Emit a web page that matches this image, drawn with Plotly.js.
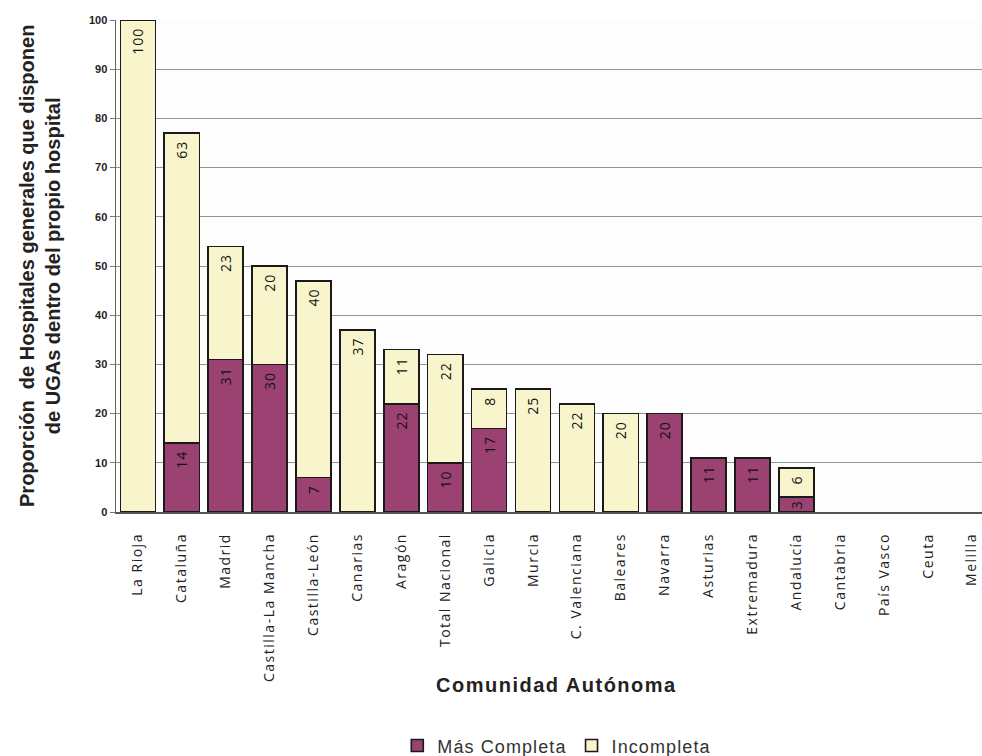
<!DOCTYPE html>
<html>
<head>
<meta charset="utf-8">
<script src="https://cdn.plot.ly/plotly-3.0.1.min.js"></script>
<style>
  html, body { margin: 0; padding: 0; background: #ffffff; }
  #chart { width: 982px; height: 756px; }
  /* spaced-out lettering for category names, bar values and legend */
  .xtick text { letter-spacing: 1.5px; }
  text.bartext { letter-spacing: 1px; }
  text.legendtext { letter-spacing: 1.1px; }
</style>
</head>
<body>
<div id="chart"></div>
<script>
// Comunidades autónomas, en el orden de la gráfica
const comunidades = [
  'La Rioja', 'Cataluña', 'Madrid', 'Castilla-La Mancha', 'Castilla-León',
  'Canarias', 'Aragón', 'Total Nacional', 'Galicia', 'Murcia',
  'C. Valenciana', 'Baleares', 'Navarra', 'Asturias', 'Extremadura',
  'Andalucía', 'Cantabria', 'País Vasco', 'Ceuta', 'Melilla'
];

// Porcentaje de hospitales con UGA "más completa"
const masCompleta = [0, 14, 31, 30, 7, 0, 22, 10, 17, 0, 0, 0, 20, 11, 11, 3, 0, 0, 0, 0];

// Porcentaje de hospitales con UGA "incompleta"
const incompleta = [100, 63, 23, 20, 40, 37, 11, 22, 8, 25, 22, 20, 0, 0, 0, 6, 0, 0, 0, 0];

const yTicks = [0, 10, 20, 30, 40, 50, 60, 70, 80, 90, 100];

// value label; segments tall enough get a little gap below their top edge
const etiqueta = v => (v <= 0 ? '' : (v >= 5 ? String(v) + '\u00a0' : String(v)));
const valor = v => (v > 0 ? v : null);

const barText = {
  textposition: 'inside',
  insidetextanchor: 'end',
  textangle: -90,
  constraintext: 'none',
  textfont: { family: 'Open Sans, sans-serif', size: 14, color: '#111111' },
  hoverinfo: 'skip'
};

const traces = [
  Object.assign({
    type: 'bar',
    name: 'Más Completa',
    x: comunidades,
    y: masCompleta.map(valor),
    text: masCompleta.map(etiqueta),
    marker: { color: '#9b4272', line: { color: '#1a1a1a', width: 1.6 } }
  }, barText),
  Object.assign({
    type: 'bar',
    name: 'Incompleta',
    x: comunidades,
    y: incompleta.map(valor),
    text: incompleta.map(etiqueta),
    marker: { color: '#f8f5cc', line: { color: '#1a1a1a', width: 1.6 } }
  }, barText)
];

const layout = {
  width: 982,
  height: 756,
  barmode: 'stack',
  bargap: 0.2,
  paper_bgcolor: '#ffffff',
  plot_bgcolor: '#fdfdfd',
  margin: { l: 116, r: 0, t: 20, b: 244 },
  showlegend: true,
  legend: {
    orientation: 'h',
    xref: 'container', yref: 'container',
    x: 0.567, xanchor: 'center',
    y: 0.0135, yanchor: 'middle',
    traceorder: 'normal',
    font: { family: 'Liberation Sans, Arial, sans-serif', size: 18, color: '#333333' },
    itemwidth: 30
  },
  xaxis: {
    type: 'category',
    range: [-0.5, 19.23],
    tickangle: -90,
    ticks: 'outside',
    ticklen: 14,
    tickcolor: 'rgba(0,0,0,0)',
    tickfont: { family: 'Open Sans, sans-serif', size: 14, color: '#222222' },
    showline: true,
    linecolor: '#555555',
    linewidth: 1.5,
    showgrid: false,
    zeroline: false
  },
  yaxis: {
    range: [0, 100],
    tickvals: yTicks,
    ticktext: yTicks.map(String),
    ticks: 'outside',
    ticklen: 5,
    tickcolor: '#777777',
    tickfont: { family: 'Liberation Sans, Arial, sans-serif', size: 11, color: '#222222', weight: 'bold' },
    showline: true,
    linecolor: '#666666',
    linewidth: 1.5,
    showgrid: true,
    gridcolor: '#939393',
    gridwidth: 1,
    zeroline: false
  },
  annotations: [
    {
      text: '<b>Proporción  de Hospitales generales que disponen<br>de UGAs dentro del propio hospital</b>',
      xref: 'paper', yref: 'paper',
      x: -0.0878, y: 0.5,
      xanchor: 'center', yanchor: 'middle',
      textangle: -90,
      showarrow: false,
      font: { family: 'Liberation Sans, Arial, sans-serif', size: 20, color: '#222222' }
    },
    {
      text: '<span style="letter-spacing:1.5px"><b>Comunidad Autónoma</b></span>',
      xref: 'paper', yref: 'paper',
      x: 0.509, y: -0.352,
      xanchor: 'center', yanchor: 'middle',
      showarrow: false,
      font: { family: 'Liberation Sans, Arial, sans-serif', size: 20, color: '#222222' }
    }
  ]
};

Plotly.newPlot('chart', traces, layout, { displayModeBar: false, staticPlot: true });
</script>
</body>
</html>
